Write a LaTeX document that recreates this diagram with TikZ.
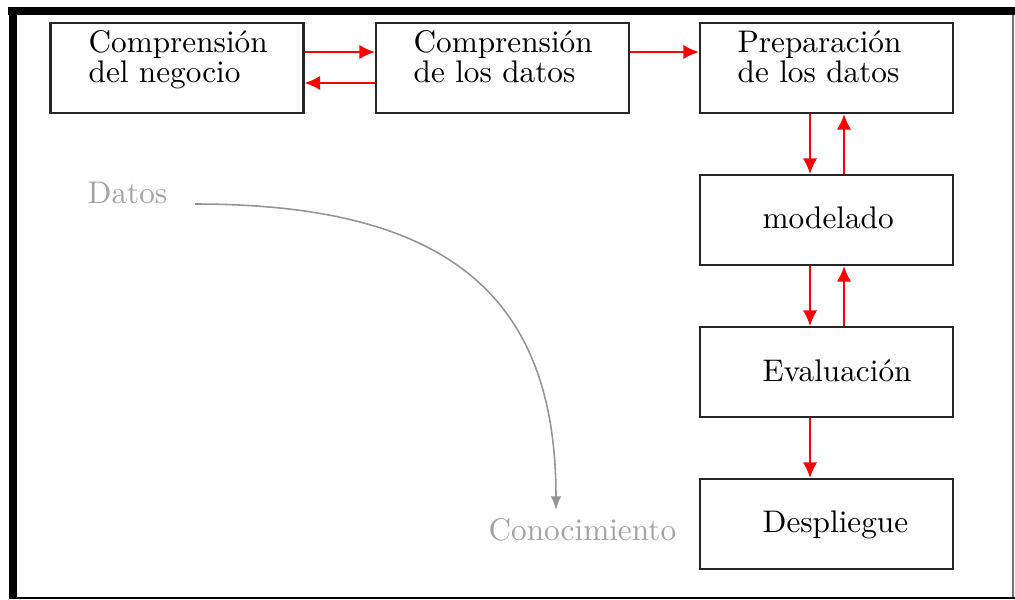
\documentclass[tikz,border=0pt]{standalone}
\usepackage{fontspec}
\usetikzlibrary{arrows.meta}
\def\pxu{0.32pt}
\begin{document}
\begin{tikzpicture}[x=0.32pt, y=-0.32pt,
  stage/.style={draw=black!85, line width=0.66pt,
    minimum width=253*\pxu, minimum height=90*\pxu, inner sep=0pt},
  stagetext/.style={inner sep=0pt, anchor=base west, align=left,
    font=\fontsize{10}{9.6}\selectfont},
  flow/.style={draw=red, line width=0.64pt, -{Latex[length=5pt,width=4.6pt]}},
  faint/.style={text=black!36, inner sep=0pt, anchor=base west},
  trend/.style={draw=black!42, line width=0.5pt, -{Latex[length=4.4pt,width=3.4pt]}},
  frame/.style={fill=black, draw=none}
]
\useasboundingbox (0,0) rectangle (1015,599);

% frame
\fill[frame] (8,7) rectangle (1015,15);
\fill[frame] (9,7) rectangle (17,599);
\fill[frame] (9,597) rectangle (1015,599);
\draw[black!55, line width=0.5pt] (1013,15) -- (1013,597);

% process boxes
\node[stage] (b1) at (177,68) {};
\node[stage] (b2) at (502.5,68) {};
\node[stage] (b3) at (826.5,68) {};
\node[stage] (b4) at (826.5,220) {};
\node[stage] (b5) at (826.5,372) {};
\node[stage] (b6) at (826.5,524) {};

% box captions (anchored on the baseline of the last line)
\node[stagetext] (t1) at (88,82) {Comprensión\\del negocio};
\node[stagetext] (t2) at (413,82) {Comprensión\\de los datos};
\node[stagetext] (t3) at (737,82) {Preparación\\de los datos};
\node[stagetext] (t4) at (762,228) {modelado};
\node[stagetext] (t5) at (762,381) {Evaluación};
\node[stagetext] (t6) at (762,532) {Despliegue};

% red flow arrows
\draw[flow] ([yshift=16*\pxu]b1.east) -- ([yshift=16*\pxu]b2.west);
\draw[flow] ([yshift=-15*\pxu]b2.west) -- ([yshift=-15*\pxu]b1.east);
\draw[flow] ([yshift=16*\pxu]b2.east) -- ([yshift=16*\pxu]b3.west);
\draw[flow] ([xshift=-16.5*\pxu]b3.south) -- ([xshift=-16.5*\pxu]b4.north);
\draw[flow] ([xshift=17.5*\pxu]b4.north) -- ([xshift=17.5*\pxu]b3.south);
\draw[flow] ([xshift=-16.5*\pxu]b4.south) -- ([xshift=-16.5*\pxu]b5.north);
\draw[flow] ([xshift=17.5*\pxu]b5.north) -- ([xshift=17.5*\pxu]b4.south);
\draw[flow] ([xshift=-16.5*\pxu]b5.south) -- ([xshift=-16.5*\pxu]b6.north);

% data to knowledge
\node[faint] (datos) at (87,203) {Datos};
\node[faint] (cono) at (488,540) {Conocimiento};
\coordinate (cstart) at (195,204);
\coordinate (cend) at (556,510);
\draw[trend] (cstart) .. controls +(253,0) and +(0,-214) .. (cend);
\end{tikzpicture}
\end{document}
